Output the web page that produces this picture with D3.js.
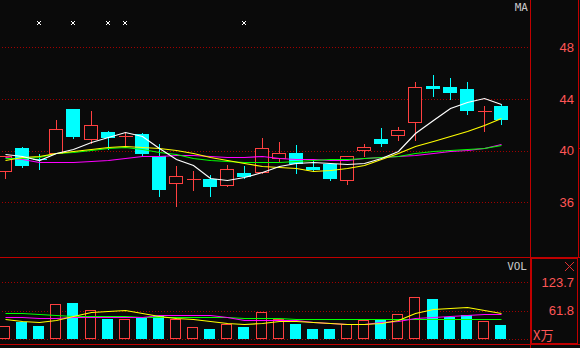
<!DOCTYPE html>
<html>
<head>
<meta charset="utf-8">
<script src="https://cdn.jsdelivr.net/npm/d3@7"></script>
<style>
  html, body { margin: 0; padding: 0; background: #0a0a0a; }
  svg { display: block; }
</style>
</head>
<body>
<svg id="kline" width="580" height="348"></svg>
<script>
// Candles (price units).
var opens  = [38.41, 40.21, 39.34, 39.85, 43.23, 40.93, 41.45, 41.11, 41.29, 39.59,
              37.48, 37.79, 37.81, 37.37, 38.27, 38.33, 39.41, 39.82, 38.76, 38.97,
              37.71, 40.03, 40.91, 41.24, 42.24, 44.98, 44.91, 44.78, 43.05, 43.46];
var closes = [39.59, 38.92, 39.32, 41.66, 41.16, 41.99, 41.08, 41.11, 39.85, 37.06,
              38.02, 37.79, 37.27, 38.56, 38.04, 40.19, 39.80, 39.02, 38.58, 37.89,
              39.57, 40.29, 40.62, 41.58, 44.91, 44.88, 44.57, 43.17, 43.05, 42.48];
var highs  = [39.65, 40.36, 39.80, 42.45, 43.30, 43.15, 41.60, 41.42, 41.45, 40.57,
              38.89, 38.51, 38.20, 38.95, 38.89, 41.04, 40.75, 40.52, 39.33, 39.15,
              39.67, 40.60, 41.83, 41.91, 45.39, 45.94, 45.68, 45.39, 43.54, 43.67];
var lows   = [37.91, 38.76, 38.60, 39.80, 41.00, 40.62, 40.10, 40.31, 39.59, 36.52,
              35.74, 36.96, 36.52, 37.27, 37.86, 38.25, 39.10, 38.30, 38.43, 37.73,
              37.45, 39.57, 40.39, 40.85, 40.85, 44.26, 44.02, 42.86, 41.55, 42.09];

// Moving averages on the price panel.
var ma5  = [39.74, 39.59, 39.28, 39.80, 40.11, 40.70, 41.08, 41.42, 41.14, 40.19,
            39.37, 38.89, 37.86, 37.71, 37.99, 38.33, 38.82, 39.07, 39.10, 39.03,
            38.97, 39.02, 39.46, 40.00, 41.35, 42.38, 43.28, 43.79, 44.06, 43.61];
var ma10 = [39.26, 39.49, 39.61, 39.85, 39.98, 40.15, 40.29, 40.34, 40.31, 40.19,
            40.03, 39.85, 39.54, 39.28, 39.02, 38.84, 38.72, 38.62, 38.41, 38.49,
            38.64, 38.89, 39.36, 39.80, 40.36, 40.75, 41.14, 41.55, 41.99, 42.51];
var ma20 = [39.41, 39.41, 39.49, 39.80, 39.92, 40.08, 40.21, 40.29, 40.13, 39.88,
            39.73, 39.46, 39.26, 39.18, 39.10, 39.10, 39.10, 39.22, 39.28, 39.32,
            39.34, 39.46, 39.51, 39.59, 39.80, 39.95, 40.03, 40.13, 40.23, 40.46];
var ma30 = [39.51, 39.33, 39.10, 39.15, 39.10, 39.23, 39.26, 39.41, 39.57, 39.57,
            39.68, 39.64, 39.59, 39.51, 39.51, 39.57, 39.46, 39.38, 39.37, 39.24,
            39.28, 39.46, 39.51, 39.57, 39.67, 39.80, 39.95, 40.08, 40.23, 40.49];

// Volume (x万) and its averages.
var volumes = [27.7, 37.7, 28.4, 75.7, 78.5, 62.6, 43.6, 43.6, 48.7, 49.5,
               43.6, 26.2, 21.8, 32.7, 26.2, 58.9, 43.0, 32.7, 21.8, 21.8,
               32.7, 41.4, 43.0, 53.9, 91.0, 87.3, 48.0, 51.7, 38.6, 30.5];
var volMa5  = [43.6, 39.3, 37.1, 42.1, 50.8, 58.2, 61.1, 62.6, 56.1, 50.2,
               45.8, 43.0, 39.3, 35.6, 32.1, 34.2, 38.6, 39.3, 37.7, 35.6,
               32.7, 32.7, 34.2, 42.1, 56.7, 64.8, 67.0, 69.2, 63.9, 56.1];
var volMa10 = [47.3, 47.3, 45.2, 46.5, 48.0, 48.6, 48.6, 48.0, 48.6, 51.7,
               51.7, 51.7, 51.7, 48.0, 42.1, 41.4, 40.8, 40.8, 37.7, 34.2,
               32.1, 32.1, 36.4, 39.9, 45.2, 48.6, 49.5, 51.7, 53.9, 53.9];
var volMa20 = [56.1, 56.1, 53.9, 51.7, 49.5, 49.5, 49.5, 49.5, 48.0, 48.0,
               48.0, 47.3, 47.3, 47.3, 45.8, 45.2, 45.2, 44.7, 43.0, 43.0,
               43.0, 43.0, 43.0, 43.0, 43.0, 43.0, 43.0, 43.0, 43.0, 43.0];

var priceTicks = [36, 40, 44, 48];
var volTicks = [0, 61.8, 123.7];
var markerDays = [2, 4, 6, 7, 14];   // small white crosses along the top

var RED = "#ff4040", CYAN = "#00ffff", BG = "#0a0a0a",
    FRAME = "#c00000", GRID = "#a00000", LABEL = "#ff5656";

var svg = d3.select("#kline");

// Day index -> pixel column of the candle centre.
var xc = d3.scaleLinear().domain([0, 29]).range([5, 501]);
function cx(i) { return Math.round(xc(i)) + 0.5; }

var y = d3.scaleLinear().domain([36, 48]).range([202.3, 47.3]);
var yv = d3.scaleLinear().domain([0, 123.7]).range([339, 282.3]);
function py(v) { return Math.round(y(v)) + 0.5; }

// Dotted grid lines:
svg.append("g")
    .attr("transform", "translate(2,0)")
    .call(d3.axisRight(y).tickValues(priceTicks).tickSize(526).tickFormat(""))
    .call(function (g) { g.select(".domain").remove(); });
svg.append("g")
    .attr("transform", "translate(2,0)")
    .call(d3.axisRight(yv).tickValues(volTicks).tickSize(526).tickFormat(""))
    .call(function (g) { g.select(".domain").remove(); });
svg.selectAll(".tick line")
    .attr("stroke", GRID)
    .attr("stroke-dasharray", "1,2")
    .attr("shape-rendering", "crispEdges");

// Frame lines:
var frame = svg.append("g")
    .attr("stroke", FRAME)
    .attr("fill", "none")
    .attr("shape-rendering", "crispEdges");
frame.append("line").attr("x1", 530.5).attr("x2", 530.5).attr("y1", 0).attr("y2", 348);
frame.append("line").attr("x1", 578.5).attr("x2", 578.5).attr("y1", 0).attr("y2", 257);
frame.append("line").attr("x1", 0).attr("x2", 580).attr("y1", 257.5).attr("y2", 257.5);
frame.append("line").attr("x1", 0).attr("x2", 580).attr("y1", 344.5).attr("y2", 344.5);
frame.append("rect")
    .attr("x", 531.5).attr("y", 258.5).attr("width", 46).attr("height", 85);
frame.append("line").attr("x1", 578).attr("x2", 580).attr("y1", 148.5).attr("y2", 148.5);

// Red X icon in the volume box:
svg.append("path")
    .attr("d", "M565,262L574,271M574,262L565,271")
    .attr("stroke", "#e03030")
    .attr("fill", "none");

// Moving average lines:
function drawLine(values, scale, color) {
    var line = d3.line()
        .x(function (d, i) { return cx(i); })
        .y(function (d) { return Math.round(scale(d)) + 0.5; });
    svg.append("path")
        .datum(values)
        .attr("d", line)
        .attr("fill", "none")
        .attr("stroke", color)
        .attr("stroke-width", 1.2);
}

// Candles:
var candles = svg.append("g").attr("shape-rendering", "crispEdges");
d3.range(opens.length).forEach(function (i) {
    var up = closes[i] >= opens[i];
    var color = up ? RED : CYAN;
    var x = cx(i);
    var top = py(Math.max(opens[i], closes[i]));
    var bot = py(Math.min(opens[i], closes[i]));

    candles.append("line")
        .attr("x1", x).attr("x2", x)
        .attr("y1", py(highs[i])).attr("y2", py(lows[i]))
        .attr("stroke", color);

    if (bot - top < 1) {
        candles.append("line")
            .attr("x1", x - 7).attr("x2", x + 7)
            .attr("y1", top).attr("y2", top)
            .attr("stroke", color);
    } else if (up) {
        candles.append("rect")
            .attr("x", x - 7).attr("y", top)
            .attr("width", 13).attr("height", bot - top)
            .attr("fill", BG).attr("stroke", color);
    } else {
        candles.append("rect")
            .attr("x", x - 7.5).attr("y", top - 0.5)
            .attr("width", 14).attr("height", bot - top + 1)
            .attr("fill", color);
    }
});

drawLine(ma30, y, "#ff00ff");
drawLine(ma20, y, "#00ff00");
drawLine(ma10, y, "#ffff00");
drawLine(ma5, y, "#ffffff");

// Volume bars:
var bars = svg.append("g").attr("shape-rendering", "crispEdges");
volumes.forEach(function (v, i) {
    var up = closes[i] >= opens[i];
    var x = cx(i);
    var top = Math.round(yv(v));
    if (up) {
        bars.append("rect")
            .attr("x", x - 6).attr("y", top + 0.5)
            .attr("width", 10).attr("height", 338 - top)
            .attr("fill", BG).attr("stroke", RED);
    } else {
        bars.append("rect")
            .attr("x", x - 6.5).attr("y", top)
            .attr("width", 11).attr("height", 339 - top)
            .attr("fill", CYAN);
    }
});

drawLine(volMa20, yv, "#00ff00");
drawLine(volMa10, yv, "#ff00ff");
drawLine(volMa5, yv, "#ffff00");

// Markers along the top:
svg.append("g")
  .selectAll("path")
  .data(markerDays)
  .join("path")
    .attr("d", function (d) {
        var x = cx(d) - 0.5;
        return "M" + (x - 2) + ",21L" + (x + 2) + ",25M" + (x + 2) + ",21L" + (x - 2) + ",25";
    })
    .attr("stroke", "#ffffff")
    .attr("fill", "none");

// Right hand labels:
function drawLabels(scale, ticks, fmt) {
    svg.append("g")
        .attr("transform", "translate(574,0)")
        .call(d3.axisLeft(scale).tickValues(ticks).tickSize(0).tickPadding(0).tickFormat(fmt))
        .call(function (g) {
            g.select(".domain").remove();
            g.selectAll("text")
                .attr("fill", LABEL)
                .attr("font-family", "'Liberation Sans', sans-serif")
                .attr("font-size", 13);
        });
}
drawLabels(y, priceTicks, d3.format("d"));
drawLabels(yv, volTicks.slice(1), d3.format(".1f"));

svg.append("text")
    .attr("x", 533).attr("y", 340)
    .attr("fill", LABEL)
    .attr("font-family", "'Noto Sans CJK SC', sans-serif")
    .attr("font-size", 13)
    .text("X万");

svg.append("text")
    .attr("x", 528).attr("y", 11)
    .attr("text-anchor", "end")
    .attr("fill", "#c8c8c8")
    .attr("font-family", "'DejaVu Sans Mono', monospace")
    .attr("font-size", 11)
    .text("MA");

svg.append("text")
    .attr("x", 527).attr("y", 270)
    .attr("text-anchor", "end")
    .attr("fill", "#c8c8c8")
    .attr("font-family", "'DejaVu Sans Mono', monospace")
    .attr("font-size", 11)
    .text("VOL");
</script>
</body>
</html>
